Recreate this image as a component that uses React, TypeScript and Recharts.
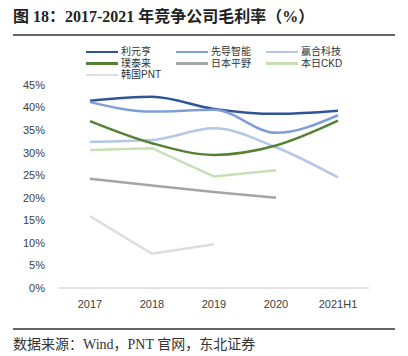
import { LineChart, Line, XAxis, YAxis } from "recharts";

const categories = ["2017", "2018", "2019", "2020", "2021H1"];

// 毛利率 (%)
const liyuanheng = [41.5, 42.4, 39.7, 38.6, 39.3];
const xiandao = [41.2, 39.1, 39.5, 34.4, 38.3];
const yinghe = [32.4, 32.8, 35.4, 31.2, 24.5];
const putailai = [37.0, 32.1, 29.5, 31.6, 37.1];
const riben = [24.2, 22.7, 21.3, 20.0, null];
const bentian = [30.6, 31.0, 24.7, 26.1, null];
const hanguo = [15.9, 7.6, 9.7, null, null];

const yTicks = [0, 5, 10, 15, 20, 25, 30, 35, 40, 45];

const series = [
  { key: "liyuanheng", name: "利元亨", color: "#2F5597", smooth: true, values: liyuanheng },
  { key: "xiandao", name: "先导智能", color: "#7F9ED8", smooth: true, values: xiandao },
  { key: "yinghe", name: "赢合科技", color: "#B4C7E7", smooth: true, values: yinghe },
  { key: "putailai", name: "璞泰来", color: "#548235", smooth: true, values: putailai },
  { key: "riben", name: "日本平野", color: "#A5A5A5", smooth: false, values: riben },
  { key: "bentian", name: "本日CKD", color: "#C5E0B4", smooth: false, values: bentian },
  { key: "hanguo", name: "韩国PNT", color: "#DDDDDD", smooth: false, values: hanguo },
];

const data = categories.map((c, i) => {
  const row: Record<string, any> = { name: c };
  series.forEach((s) => {
    row[s.key] = s.values[i];
  });
  return row;
});

const cjk = "'Liberation Serif', 'Noto Sans CJK SC', serif";

// legend positions follow the original's 3-column grid
const legendCols = [86, 176, 266];
const legendRows = [52, 63.5, 75];

export default function App() {
  return (
    <div style={{ position: "absolute", left: 0, top: 0, width: 408, height: 356, background: "#fff" }}>
      <div
        style={{
          position: "absolute",
          left: 13,
          top: 3,
          fontFamily: cjk,
          fontWeight: "bold",
          fontSize: 16,
          color: "#222",
          whiteSpace: "nowrap",
        }}
      >
        图 18：2017-2021 年竞争公司毛利率（%）
      </div>
      <div style={{ position: "absolute", left: 13, top: 34, width: 382, height: 1.5, background: "#666" }} />

      {series.map((s, i) => (
        <div
          key={s.key}
          style={{
            position: "absolute",
            left: legendCols[i % 3],
            top: legendRows[Math.floor(i / 3)] - 5,
            height: 10,
            display: "flex",
            alignItems: "center",
            whiteSpace: "nowrap",
          }}
        >
          <div style={{ width: 32, height: 2.5, background: s.color }} />
          <div
            style={{
              marginLeft: 3,
              fontSize: 10,
              fontFamily: "'Liberation Sans', 'Noto Sans CJK SC', sans-serif",
              color: "#333",
              lineHeight: "10px",
              height: 10,
            }}
          >
            {s.name}
          </div>
        </div>
      ))}

      <div style={{ position: "absolute", left: 0, top: 0 }}>
        <LineChart width={408} height={356} data={data} margin={{ top: 85, right: 39, bottom: 48, left: 0 }}>
          <XAxis
            dataKey="name"
            tick={{ fontSize: 11, fill: "#404040", fontFamily: "'Liberation Sans', Arial, sans-serif" }}
            tickLine={false}
            axisLine={{ stroke: "#D9D9D9", strokeWidth: 1.5 }}
            tickMargin={6}
            height={20}
            padding={{ left: 31, right: 31 }}
          />
          <YAxis
            domain={[0, 45]}
            ticks={yTicks}
            tickFormatter={(v) => `${v}%`}
            tick={{ fontSize: 11, fill: "#404040", fontFamily: "'Liberation Sans', Arial, sans-serif" }}
            tickLine={false}
            axisLine={false}
            width={59}
            tickMargin={8}
          />
          {series.map((s) => (
            <Line
              key={s.key}
              dataKey={s.key}
              name={s.name}
              type={s.smooth ? "monotone" : "linear"}
              stroke={s.color}
              strokeWidth={2.5}
              dot={false}
              activeDot={false}
              isAnimationActive={false}
            />
          ))}
        </LineChart>
      </div>

      <div style={{ position: "absolute", left: 13, top: 328, width: 382, height: 1.5, background: "#666" }} />
      <div
        style={{
          position: "absolute",
          left: 13,
          top: 333,
          fontFamily: cjk,
          fontSize: 14,
          color: "#333",
          whiteSpace: "nowrap",
        }}
      >
        数据来源：Wind，PNT 官网，东北证券
      </div>
    </div>
  );
}
